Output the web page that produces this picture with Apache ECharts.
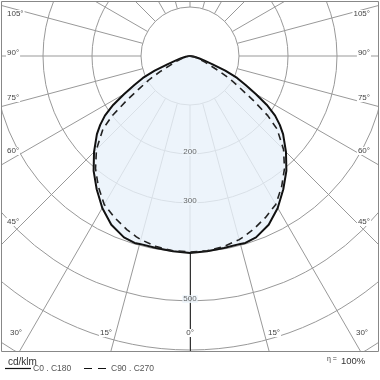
<!DOCTYPE html>
<html><head><meta charset="utf-8">
<script src="https://cdn.jsdelivr.net/npm/echarts@6/dist/echarts.min.js"></script>
<style>html,body{margin:0;padding:0;background:#fff}#c{width:380px;height:380px}</style>
</head><body><div id="c"></div>
<script>
// ---- data ----
const gammas = [0,5,10,15,16.5,20,25,30,35,40,45,50,52.5,55,57.5,60,62.5,65,67.5,70,72.5,75,80,85,90];
const c0   = [402,400,398,397,398,394,380,358,332,306,277,248,231,212,186,155,128,106,78,48,30,20,9,3,0];
const c180 = [402,400,398,397,398,394,380,358,332,306,277,248,231,212,186,155,128,106,78,48,30,20,9,3,0];
const c90  = [400,399,395,388,385,377,364,350,326,300,270,232,200,157,120,95,68,45,34,25,19,14,7,3,0];
const c270 = [400,399,395,388,385,377,364,350,326,300,270,232,200,157,120,95,68,45,34,25,19,14,7,3,0];
const radiusLabels = [200,300,500];
const sideLabels = ['105°','90°','75°','60°','45°'];
const bottomLabels = ['30°','15°','0°','15°','30°'];
const seriesNames = ['C0 . C180','C90 . C270'];
const unitLabel = 'cd/klm';
const etaLabel = '100%';

// ---- build ----
function buildCurve(right, left){
  const pts = [];
  for (let i = gammas.length - 1; i >= 0; i--) pts.push([right[i], -gammas[i]]);
  for (let i = 1; i < gammas.length; i++) pts.push([left[i], gammas[i]]);
  return pts;
}
const FONT = 'Liberation Sans, Arial, sans-serif';
const CX = 190, CY = 56, R = 343;
const hidden = {axisLine:{show:false}, axisTick:{show:false}, axisLabel:{show:false}, splitLine:{show:false}};

const chart = echarts.init(document.getElementById('c'), null, {renderer:'canvas'});

const sideYs = [14,53,98,151,222];
const bottomXs = [16,106,190,274,362];
const graphics = [
  {type:'rect', z:50, shape:{x:0,y:351.5,width:380,height:30}, style:{fill:'#fff'}},
  {type:'rect', z:50, shape:{x:0,y:0,width:1.5,height:352}, style:{fill:'#fff'}},
  {type:'rect', z:50, shape:{x:378.5,y:0,width:2,height:352}, style:{fill:'#fff'}},
  {type:'rect', z:50, shape:{x:0,y:0,width:380,height:1.5}, style:{fill:'#fff'}},
  {type:'rect', z:51, shape:{x:1.5,y:1.5,width:377,height:350}, style:{fill:null, stroke:'#888', lineWidth:1}},
];
sideLabels.forEach((t,i)=>{
  graphics.push({type:'text', z:60, x:6, y:sideYs[i], style:{text:t, font:'8px '+FONT, fill:'#444', align:'left', verticalAlign:'middle', backgroundColor:'#fff', padding:[0,1]}});
  graphics.push({type:'text', z:60, x:371, y:sideYs[i], style:{text:t, font:'8px '+FONT, fill:'#444', align:'right', verticalAlign:'middle', backgroundColor:'#fff', padding:[0,1]}});
});
bottomLabels.forEach((t,i)=>{
  graphics.push({type:'text', z:60, x:bottomXs[i], y:333, style:{text:t, font:'8px '+FONT, fill:'#444', align:'center', verticalAlign:'middle', backgroundColor:'#fff', padding:[0,1]}});
});
// legend / footer
graphics.push({type:'text', z:60, x:8, y:362, style:{text:unitLabel, font:'10px '+FONT, fill:'#333', verticalAlign:'middle'}});
graphics.push({type:'line', z:60, shape:{x1:5,y1:368.5,x2:31,y2:368.5}, style:{stroke:'#111', lineWidth:1.2}});
graphics.push({type:'text', z:60, x:33, y:369, style:{text:seriesNames[0], font:'8.5px '+FONT, fill:'#555', verticalAlign:'middle'}});
graphics.push({type:'line', z:60, shape:{x1:84,y1:368.5,x2:106,y2:368.5}, style:{stroke:'#111', lineWidth:1.2, lineDash:[8,6]}});
graphics.push({type:'text', z:60, x:111, y:369, style:{text:seriesNames[1], font:'8.5px '+FONT, fill:'#555', verticalAlign:'middle'}});
graphics.push({type:'text', z:60, x:327, y:359, style:{text:'η =', font:'7px '+FONT, fill:'#444', verticalAlign:'middle'}});
graphics.push({type:'text', z:60, x:341, y:361, style:{text:etaLabel, font:'9.5px '+FONT, fill:'#333', verticalAlign:'middle'}});

chart.setOption({
  animation:false,
  backgroundColor:'#fff',
  polar:[
    {center:[CX,CY], radius:[49,R]},
    {center:[CX,CY], radius:[0,R]},
    {center:[CX,CY], radius:[196,R]}
  ],
  angleAxis:[
    Object.assign({}, hidden, {polarIndex:0, type:'value', min:-180, max:180, interval:15, startAngle:90, clockwise:true,
      splitLine:{show:true, lineStyle:{color:'#999', width:1}}}),
    Object.assign({}, hidden, {polarIndex:1, type:'value', min:-180, max:180, interval:15, startAngle:90, clockwise:true}),
    Object.assign({}, hidden, {polarIndex:2, type:'value', min:0, max:360, interval:15, startAngle:270})
  ],
  radiusAxis:[
    Object.assign({}, hidden, {polarIndex:0, type:'value', min:100, max:700, interval:100,
      splitLine:{show:true, lineStyle:{color:'#999', width:1}}}),
    Object.assign({}, hidden, {polarIndex:1, type:'value', min:0, max:700, interval:100}),
    Object.assign({}, hidden, {polarIndex:2, type:'value', min:400, max:700, interval:100,
      axisLine:{show:true, lineStyle:{color:'#333', width:1}}})
  ],
  series:[
    {type:'line', name:seriesNames[0], coordinateSystem:'polar', polarIndex:1, data:buildCurve(c0,c180),
      symbol:'none', clip:false, z:3, lineStyle:{color:'#111', width:2},
      areaStyle:{color:'#e8f1fa', opacity:0.8}},
    {type:'line', name:seriesNames[1], coordinateSystem:'polar', polarIndex:1, data:buildCurve(c90,c270),
      symbol:'none', clip:false, z:4, lineStyle:{color:'#222', width:1.6, type:[7,5]}},
    {type:'scatter', coordinateSystem:'polar', polarIndex:1, z:5, symbolSize:0, silent:true,
      data:radiusLabels.map(v=>[v,0]),
      label:{show:true, position:'inside', offset:[0,-2], formatter:p=>String(p.value[0]),
        fontSize:8, fontFamily:FONT, color:'#444',
        backgroundColor:'#eef5fb', padding:[0,1]}}
  ],
  graphic: graphics
});
</script></body></html>
